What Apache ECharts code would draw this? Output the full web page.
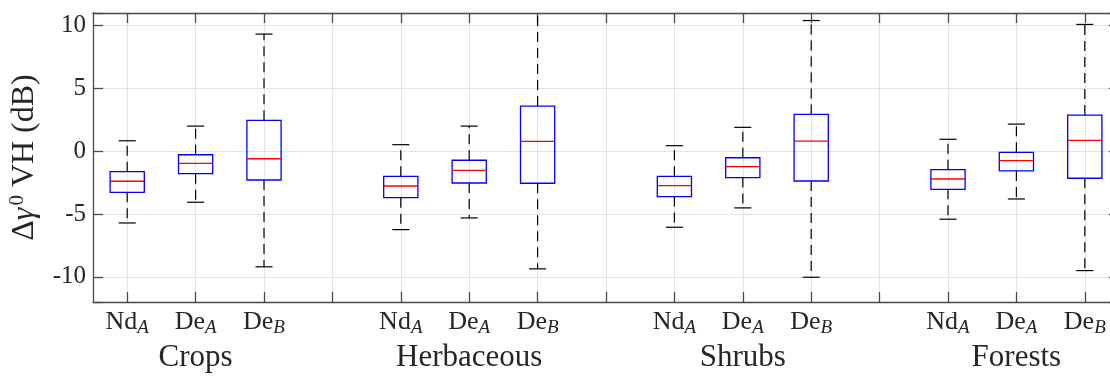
<!DOCTYPE html>
<html>
<head>
<meta charset="utf-8">
<script src="https://cdn.jsdelivr.net/npm/echarts@6/dist/echarts.min.js"></script>
<style>
html,body{margin:0;padding:0;background:#fff;}
#chart{width:1110px;height:376px;}
</style>
</head>
<body>
<div id="chart"></div>
<script>
// ---- data ----
const groups = ['Crops', 'Herbaceous', 'Shrubs', 'Forests'];
const methods = ['Nd', 'De', 'De'];
const methodSubs = ['A', 'A', 'B'];
// order: Crops(Nd_A, De_A, De_B), Herbaceous(...), Shrubs(...), Forests(...)
const whiskerLow  = [-5.71, -4.06, -9.20,  -6.24, -5.31, -9.36,  -6.05, -4.51, -10.03,  -5.41, -3.80, -9.50];
const quartile1   = [-3.27, -1.79, -2.29,  -3.70, -2.53, -2.55,  -3.61, -2.10, -2.37,   -3.03, -1.57, -2.15];
const medians     = [-2.39, -0.96, -0.60,  -2.77, -1.52,  0.79,  -2.74, -1.23,  0.81,   -2.21, -0.75,  0.87];
const quartile3   = [-1.63, -0.28,  2.46,  -2.00, -0.72,  3.59,  -2.00, -0.52,  2.93,   -1.47, -0.09,  2.88];
const whiskerHigh = [ 0.83,  2.00,  9.32,   0.52,  2.00, 11.80,   0.44,  1.90, 10.40,    0.95,  2.16, 10.09];
const yMin = -12, yMax = 11;
const yTickStep = 5;

// ---- build ----
const FONT = 'Liberation Serif';
const TXT = '#262626';
const nSlots = groups.length * 4 - 1; // 3 boxes + separator per group
const categories = [];
for (let i = 0; i < nSlots; i++) categories.push('s' + i);

const boxData = [];
for (let g = 0; g < groups.length; g++) {
  for (let m = 0; m < 3; m++) {
    const k = g * 3 + m;
    boxData.push([g * 4 + m, whiskerLow[k], quartile1[k], medians[k], quartile3[k], whiskerHigh[k]]);
  }
}

function labelFor(value, index) {
  const m = index % 4;
  if (m === 3) return '';
  const g = Math.floor(index / 4);
  let s = '{n|' + methods[m] + '}{s|' + methodSubs[m] + '}';
  if (m === 1) s += '\n{g|' + groups[g] + '}';
  return s;
}

function renderItem(params, api) {
  const x = api.value(0);
  const cs = params.coordSys;
  const top = cs.y, bottom = cs.y + cs.height;
  const clampY = v => Math.max(top, Math.min(bottom, v));
  const cx = api.coord([x, 0])[0];
  const yLow = api.coord([x, api.value(1)])[1];
  const yQ1 = api.coord([x, api.value(2)])[1];
  const yMed = api.coord([x, api.value(3)])[1];
  const yQ3 = api.coord([x, api.value(4)])[1];
  const yHigh = api.coord([x, api.value(5)])[1];
  const unit = api.size([1, 0])[0];
  const bw = unit * 0.5, cw = unit * 0.25;
  const whiskStyle = { stroke: '#000', lineWidth: 1.2, lineDash: [10, 6], fill: null };
  const capStyle = { stroke: '#000', lineWidth: 1.2, fill: null };
  const children = [
    { type: 'line', shape: { x1: cx, y1: yQ3, x2: cx, y2: clampY(yHigh) }, style: whiskStyle },
    { type: 'line', shape: { x1: cx, y1: yQ1, x2: cx, y2: clampY(yLow) }, style: whiskStyle }
  ];
  if (yHigh >= top) children.push({ type: 'line', shape: { x1: cx - cw / 2, y1: yHigh, x2: cx + cw / 2, y2: yHigh }, style: capStyle });
  if (yLow <= bottom) children.push({ type: 'line', shape: { x1: cx - cw / 2, y1: yLow, x2: cx + cw / 2, y2: yLow }, style: capStyle });
  children.push({ type: 'rect', shape: { x: cx - bw / 2, y: yQ3, width: bw, height: yQ1 - yQ3 }, style: { fill: null, stroke: '#0000ff', lineWidth: 1.3 } });
  children.push({ type: 'line', shape: { x1: cx - bw / 2, y1: yMed, x2: cx + bw / 2, y2: yMed }, style: { stroke: '#ff0000', lineWidth: 1.3 } });
  return { type: 'group', children: children };
}

const axisLineStyle = { color: '#4a4a4a', width: 1.3 };
const chart = echarts.init(document.getElementById('chart'), null, { renderer: 'canvas' });
chart.setOption({
  animation: false,
  backgroundColor: '#fff',
  grid: { left: 93, top: 13, width: 1026, height: 289, containLabel: false, outerBoundsMode: 'none' },
  xAxis: [
    {
      type: 'category', data: categories, position: 'bottom', boundaryGap: true,
      axisLine: { show: true, onZero: false, lineStyle: axisLineStyle },
      axisTick: { show: true, inside: true, length: 10, alignWithLabel: true, interval: 0, lineStyle: axisLineStyle },
      splitLine: { show: true, alignWithLabel: true, interval: 0, lineStyle: { color: '#e3e3e3', width: 1 } },
      axisLabel: {
        interval: 0, margin: 5, formatter: labelFor, color: TXT,
        rich: {
          n: { fontFamily: FONT, fontSize: 26, lineHeight: 30, color: TXT },
          s: { fontFamily: FONT, fontSize: 19, fontStyle: 'italic', lineHeight: 14, verticalAlign: 'bottom', color: TXT },
          g: { fontFamily: FONT, fontSize: 31, lineHeight: 41, color: TXT }
        }
      }
    },
    {
      type: 'category', data: categories, position: 'top', boundaryGap: true,
      axisLine: { show: true, onZero: false, lineStyle: axisLineStyle },
      axisTick: { show: true, inside: true, length: 10, alignWithLabel: true, interval: 0, lineStyle: axisLineStyle },
      splitLine: { show: false },
      axisLabel: { show: false }
    }
  ],
  yAxis: [
    {
      type: 'value', min: yMin, max: yMax, splitNumber: 5, position: 'left',
      axisLine: { show: true, onZero: false, lineStyle: axisLineStyle },
      axisTick: { show: true, inside: true, length: 10, lineStyle: axisLineStyle },
      splitLine: { show: true, lineStyle: { color: '#e3e3e3', width: 1 } },
      axisLabel: {
        margin: 7, color: TXT, fontFamily: FONT, fontSize: 25,
        formatter: v => (v % yTickStep === 0 ? String(v) : '')
      },
      name: '{a|Δ}{gi|γ}{sup|0}{a| VH (dB)}',
      nameLocation: 'middle', nameGap: 50, nameRotate: 90,
      nameTextStyle: {
        color: TXT, fontFamily: FONT, fontSize: 32,
        rich: {
          a: { fontFamily: FONT, fontSize: 32, lineHeight: 36, color: TXT },
          gi: { fontFamily: FONT, fontSize: 32, fontStyle: 'italic', lineHeight: 36, color: TXT, padding: [0, 2, 0, 0] },
          sup: { fontFamily: FONT, fontSize: 21, lineHeight: 20, verticalAlign: 'top', color: TXT }
        }
      }
    },
    {
      type: 'value', min: yMin, max: yMax, splitNumber: 5, position: 'right',
      axisLine: { show: true, onZero: false, lineStyle: axisLineStyle },
      axisTick: { show: true, inside: true, length: 10, lineStyle: axisLineStyle },
      splitLine: { show: false },
      axisLabel: { show: false }
    }
  ],
  series: [{
    type: 'custom', xAxisIndex: 0, yAxisIndex: 0,
    renderItem: renderItem,
    encode: { x: 0, y: [1, 2, 3, 4, 5] },
    data: boxData,
    z: 5
  }]
});
</script>
</body>
</html>
